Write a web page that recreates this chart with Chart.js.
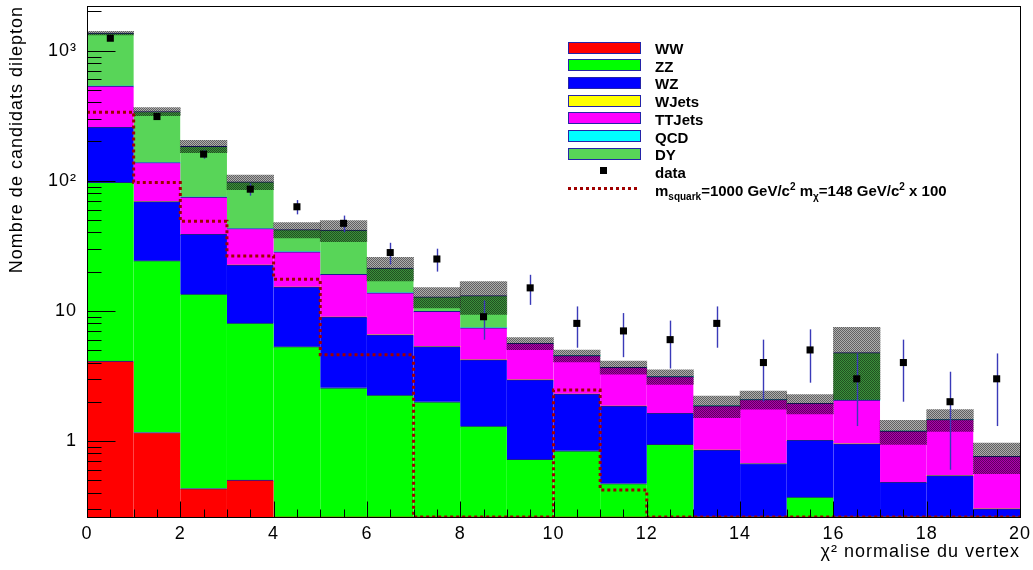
<!DOCTYPE html>
<html>
<head>
<meta charset="utf-8">
<title>chi2 normalise du vertex</title>
<script src="https://cdn.jsdelivr.net/npm/chart.js@4.4.1/dist/chart.umd.min.js"></script>
<style>
  body { margin: 0; background: #fff; }
  #wrap { position: relative; width: 1033px; height: 570px; }
  #legend { position: absolute; left: 0; top: 0; font-family: "Liberation Sans", Arial, sans-serif; font-weight: bold; font-size: 15px; color: #000; }
  .row { position: absolute; left: 568px; width: 420px; height: 18px; }
  .box { position: absolute; left: 0; top: 3px; width: 73px; height: 12px; box-sizing: border-box; border: 1px solid #2424a8; }
  .mark { position: absolute; left: 32px; top: 5px; width: 7px; height: 7px; background: #000; }
  .dots { position: absolute; left: 0; top: 7px; width: 72px; height: 3px; background: repeating-linear-gradient(to right, #a00000 0 3px, transparent 3px 6px); }
  .lbl { position: absolute; left: 87px; top: 1.5px; line-height: 18px; white-space: nowrap; }
  sub, sup { font-size: 10px; line-height: 0; }
</style>
</head>
<body>
<div id="wrap">
  <canvas id="myChart" width="1033" height="570"></canvas>
  <div id="legend"></div>
</div>
<script>
// bins of chi2 (width 1)
const binCentres = [0.5, 1.5, 2.5, 3.5, 4.5, 5.5, 6.5, 7.5, 8.5, 9.5, 10.5, 11.5, 12.5, 13.5, 14.5, 15.5, 16.5, 17.5, 18.5, 19.5];
const binEdges = [0, 1, 2, 3, 4, 5, 6, 7, 8, 9, 10, 11, 12, 13, 14, 15, 16, 17, 18, 19, 20];

// MC backgrounds (stacked, bottom to top)
const ww     = [4.1, 1.16, 0.43, 0.5, 0, 0, 0, 0, 0, 0, 0, 0, 0, 0, 0, 0, 0, 0, 0, 0];
const zz     = [92.9, 23.1, 13.0, 7.55, 5.3, 2.56, 2.25, 2.0, 1.3, 0.72, 0.84, 0.47, 0.94, 0, 0, 0.37, 0, 0, 0, 0];
const wz     = [160, 44.7, 25.2, 14.35, 9.9, 6.38, 4.28, 3.3, 2.89, 2.22, 1.45, 1.38, 0.69, 0.85, 0.67, 0.64, 0.95, 0.48, 0.54, 0.3];
const wjets  = [0, 0, 0, 0, 0, 0, 0, 0, 0, 0, 0, 0, 0, 0, 0, 0, 0, 0, 0, 0];
const ttjets = [276, 69, 36.2, 20.5, 13.2, 10.1, 7.2, 4.6, 3.2, 2.69, 2.23, 1.83, 1.49, 1.01, 1.41, 0.93, 1.11, 0.71, 0.92, 0.46];
const qcd    = [0, 0, 0, 0, 0, 0, 0, 0, 0, 0, 0, 0, 0, 0, 0, 0, 0, 0, 0, 0];
const dy     = [827, 202, 109, 55, 13.6, 22.7, 7.6, 2.9, 5.7, 0, 0, 0, 0, 0, 0, 0, 2.71, 0, 0, 0];
// MC stat uncertainty on the total
const mcErr  = [43, 24, 20, 12.5, 5.7, 7.7, 4.4, 2.3, 3.7, 0.6, 0.47, 0.42, 0.4, 0.35, 0.33, 0.33, 2.7, 0.25, 0.28, 0.2];

// data
const dataCounts = [1244, 311, 160, 86, 63, 47, 28, 25, 9, 15, 8, 7, 6, 8, 4, 5, 3, 4, 2, 3];
const dataErr    = [35, 17.6, 12.6, 9.3, 7.9, 6.9, 5.3, 5, 3, 3.9, 2.8, 2.6, 2.4, 2.8, 2, 2.2, 1.7, 2, 1.4, 1.7];

// signal x 100
const signal = [336, 97, 48.8, 26.4, 17.5, 4.6, 4.6, 0, 0, 0, 2.46, 0.42, 0, 0, 0, 0, 0, 0, 0, 0];

const processNames  = ["WW", "ZZ", "WZ", "WJets", "TTJets", "QCD", "DY"];
const processValues = [ww, zz, wz, wjets, ttjets, qcd, dy];
const processColors = ["#ff0000", "#00ff00", "#0000ff", "#ffff00", "#ff00ff", "#00ffff", "#58d558"];

const yTicks = [1, 10, 100, 1000];
const yTickLabels = ["1", "10", "10\u00b2", "10\u00b3"];
const Y_MIN = 0.26, Y_MAX = 2200;

const FONT = "'Liberation Sans', Arial, sans-serif";

// checkered band pattern (two shades so it darkens whatever is below)
function makeHatch() {
    const c = document.createElement("canvas");
    c.width = 2; c.height = 2;
    const g = c.getContext("2d");
    g.fillStyle = "rgba(0,0,0,0.62)";
    g.fillRect(0, 0, 1, 1);
    g.fillRect(1, 1, 1, 1);
    g.fillStyle = "rgba(0,0,0,0.32)";
    g.fillRect(1, 0, 1, 1);
    g.fillRect(0, 1, 1, 1);
    return g.createPattern(c, "repeat");
}

// build stacked floating bars
const datasets = [];
const base = binCentres.map(() => 0);
processValues.forEach((vals, p) => {
    const bars = binCentres.map((x, i) => {
        const lo = base[i];
        const hi = base[i] + vals[i];
        base[i] = hi;
        return { x: x, y: [Math.max(lo, Y_MIN), Math.max(hi, Y_MIN)] };
    });
    datasets.push({
        type: "bar",
        label: processNames[p],
        data: bars,
        backgroundColor: processColors[p],
        borderColor: "#1c1c90",
        borderWidth: { top: 1, left: 0, right: 0, bottom: 0 },
        borderSkipped: false,
        grouped: false,
        barPercentage: 1,
        categoryPercentage: 1,
        order: 3
    });
});

datasets.push({
    type: "bar",
    label: "MC uncertainty",
    data: binCentres.map((x, i) => ({ x: x, y: [Math.max(base[i] - mcErr[i], Y_MIN), base[i] + mcErr[i]] })),
    backgroundColor: makeHatch(),
    borderWidth: 0,
    grouped: false,
    barPercentage: 1,
    categoryPercentage: 1,
    order: 2
});

datasets.push({
    type: "line",
    label: "signal",
    data: binEdges.map((x, i) => ({ x: x, y: Math.max(signal[Math.min(i, signal.length - 1)], Y_MIN) })),
    stepped: true,
    borderColor: "#a00000",
    borderWidth: 3,
    borderDash: [3, 3],
    pointRadius: 0,
    fill: false,
    order: 1
});

datasets.push({
    type: "scatter",
    label: "data",
    data: binCentres.map((x, i) => ({ x: x, y: dataCounts[i] })),
    pointStyle: "rect",
    radius: 5,
    backgroundColor: "#000",
    borderWidth: 0,
    order: 0
});
const dataIndex = datasets.length - 1;

// ROOT text is a bit wider than Liberation Sans
const spacing = {
    id: "spacing",
    beforeLayout(chart) { chart.ctx.letterSpacing = "1px"; },
    beforeDraw(chart) { chart.ctx.letterSpacing = "1px"; }
};

// error bars on data, drawn under the markers
const errorBars = {
    id: "errorBars",
    beforeDatasetDraw(chart, args) {
        if (args.index !== dataIndex) return;
        const ctx = chart.ctx, xs = chart.scales.x, ys = chart.scales.y;
        ctx.save();
        ctx.strokeStyle = "#3a3ab8";
        ctx.lineWidth = 1.4;
        dataCounts.forEach((v, i) => {
            const x = Math.round(xs.getPixelForValue(binCentres[i])) + 0.5;
            const lo = Math.max(v - dataErr[i], Y_MIN);
            ctx.beginPath();
            ctx.moveTo(x, ys.getPixelForValue(v + dataErr[i]));
            ctx.lineTo(x, ys.getPixelForValue(lo));
            ctx.stroke();
        });
        ctx.restore();
    }
};

// ROOT-like frame with inner ticks
const frameTicks = {
    id: "frameTicks",
    afterDatasetsDraw(chart) {
        const ctx = chart.ctx, a = chart.chartArea, xs = chart.scales.x, ys = chart.scales.y;
        const L = Math.round(a.left) + 0.5, R = Math.round(a.right) + 0.5;
        const T = Math.round(a.top) + 0.5, B = Math.round(a.bottom) + 0.5;
        ctx.save();
        ctx.strokeStyle = "#000";
        ctx.lineWidth = 1;
        ctx.beginPath();
        for (let t = 0; t <= 20; t += 0.5) {
            const x = Math.round(xs.getPixelForValue(t)) + 0.5;
            const len = (t % 2 === 0) ? 16 : 8;
            ctx.moveTo(x, B);
            ctx.lineTo(x, B - len);
        }
        for (let d = 0.1; d <= 1000; d *= 10) {
            for (let k = 1; k <= 9; k++) {
                const v = d * k;
                if (v < Y_MIN || v > Y_MAX) continue;
                const y = Math.round(ys.getPixelForValue(v)) + 0.5;
                ctx.moveTo(L, y);
                ctx.lineTo(L + (k === 1 ? 28 : 14), y);
            }
        }
        ctx.stroke();
        ctx.strokeRect(L, T, R - L, B - T);
        ctx.restore();
    }
};

new Chart(document.getElementById("myChart"), {
    type: "bar",
    data: { datasets: datasets },
    options: {
        responsive: false,
        animation: false,
        layout: { padding: { top: 6, right: 13, left: 0, bottom: 0 } },
        plugins: { legend: { display: false }, tooltip: { enabled: false } },
        scales: {
            x: {
                type: "linear",
                min: 0, max: 20,
                offset: false,
                grid: { display: false, drawTicks: false },
                border: { display: false },
                ticks: { stepSize: 2, color: "#000", font: { family: FONT, size: 18 }, padding: 6, maxRotation: 0 },
                title: { display: true, text: "\u03c7\u00b2 normalise du vertex", align: "end", color: "#000", font: { family: FONT, size: 18 }, padding: { top: 0, bottom: 7 } },
                afterFit(scale) { scale.height = 53; scale.paddingLeft = 0; scale.paddingRight = 0; }
            },
            y: {
                type: "logarithmic",
                min: Y_MIN, max: Y_MAX,
                grid: { display: false, drawTicks: false },
                border: { display: false },
                afterBuildTicks(scale) { scale.ticks = yTicks.map(v => ({ value: v })); },
                ticks: {
                    color: "#000",
                    font: { family: FONT, size: 18 },
                    padding: 10,
                    callback: (v) => yTickLabels[yTicks.indexOf(v)]
                },
                title: { display: true, text: "Nombre de candidats dilepton", align: "end", color: "#000", font: { family: FONT, size: 18 }, padding: { top: 6, bottom: 0 } },
                afterFit(scale) { scale.width = 87; scale.paddingTop = 0; scale.paddingBottom = 0; }
            }
        }
    },
    plugins: [spacing, errorBars, frameTicks]
});

// legend (ROOT style, inside the frame)
const legendEl = document.getElementById("legend");
const rowCentre = (i) => 47.5 + i * 17.7;
processNames.forEach((name, i) => {
    const row = document.createElement("div");
    row.className = "row";
    row.style.top = (rowCentre(i) - 9) + "px";
    const box = document.createElement("div");
    box.className = "box";
    box.style.background = processColors[i];
    row.appendChild(box);
    const lbl = document.createElement("div");
    lbl.className = "lbl";
    lbl.innerText = name;
    row.appendChild(lbl);
    legendEl.appendChild(row);
});
const dataRow = document.createElement("div");
dataRow.className = "row";
dataRow.style.top = (rowCentre(7) - 9) + "px";
dataRow.innerHTML = '<div class="mark"></div><div class="lbl">data</div>';
legendEl.appendChild(dataRow);
const sigRow = document.createElement("div");
sigRow.className = "row";
sigRow.style.top = (rowCentre(8) - 9) + "px";
sigRow.innerHTML = '<div class="dots"></div><div class="lbl">m<sub>squark</sub>=1000 GeV/c<sup>2</sup> m<sub>\u03c7</sub>=148 GeV/c<sup>2</sup> x 100</div>';
legendEl.appendChild(sigRow);
</script>
</body>
</html>
